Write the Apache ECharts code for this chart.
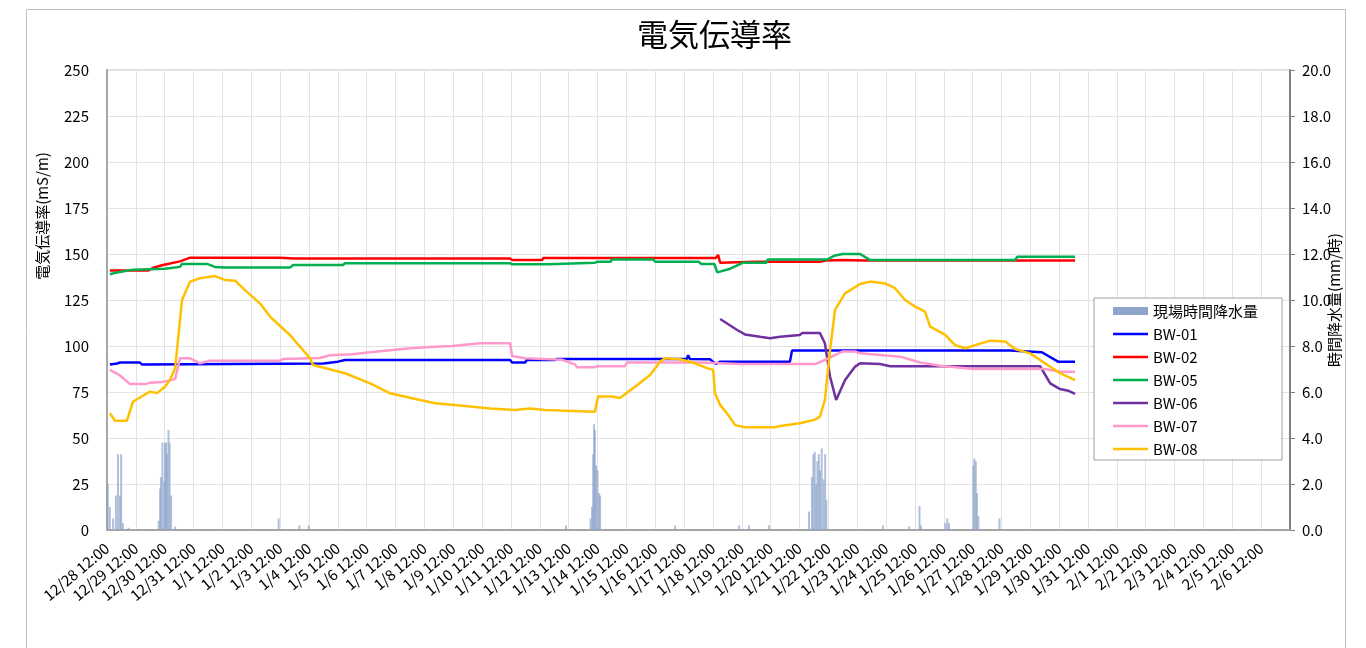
<!DOCTYPE html>
<html>
<head>
<meta charset="utf-8">
<title>電気伝導率</title>
<script src="https://cdn.jsdelivr.net/npm/echarts@6.0.0/dist/echarts.min.js"></script>
<style>
  html, body { margin: 0; padding: 0; background: #fff; }
  #main { width: 1366px; height: 648px; }
</style>
</head>
<body>
<div id="main"></div>
<script>
// x軸ラベル（12/28 12:00 を 0 日とする）
var dayLabels = ['12/28 12:00', '12/29 12:00', '12/30 12:00', '12/31 12:00', '1/1 12:00', '1/2 12:00',
  '1/3 12:00', '1/4 12:00', '1/5 12:00', '1/6 12:00', '1/7 12:00', '1/8 12:00', '1/9 12:00',
  '1/10 12:00', '1/11 12:00', '1/12 12:00', '1/13 12:00', '1/14 12:00', '1/15 12:00', '1/16 12:00',
  '1/17 12:00', '1/18 12:00', '1/19 12:00', '1/20 12:00', '1/21 12:00', '1/22 12:00', '1/23 12:00',
  '1/24 12:00', '1/25 12:00', '1/26 12:00', '1/27 12:00', '1/28 12:00', '1/29 12:00', '1/30 12:00',
  '1/31 12:00', '2/1 12:00', '2/2 12:00', '2/3 12:00', '2/4 12:00', '2/5 12:00', '2/6 12:00'];

var seriesNames = ['BW-01', 'BW-02', 'BW-05', 'BW-06', 'BW-07', 'BW-08'];
var seriesColors = ['#0000ff', '#ff0000', '#00b050', '#7030a0', '#ff99cc', '#ffc000'];
var rainName = '現場時間降水量';

// [経過日数, 電気伝導率(mS/m)]
var bw01 = [[0.10, 90], [0.35, 90.5], [0.45, 91], [1.14, 91], [1.21, 90], [7.5, 90.5], [8.0, 91.5], [8.25, 92.4],
  [13.97, 92.4], [14.04, 91], [14.49, 91], [14.55, 92.4], [15.53, 92.4], [15.6, 93], [20.1, 93], [20.14, 95],
  [20.2, 93], [20.9, 92.8], [21.0, 91.5], [21.11, 90.2], [21.25, 91.5], [23.67, 91.5], [23.74, 97.5],
  [31.3, 97.5], [31.35, 96.6], [32.4, 96.6], [32.96, 91.5], [33.55, 91.5]];

var bw02 = [[0.10, 141], [1.42, 141], [1.60, 142.5], [1.94, 144], [2.53, 146], [2.88, 148], [6.0, 148],
  [6.5, 147.6], [13.97, 147.6], [14.04, 146.7], [15.08, 146.7], [15.12, 147.8], [21.1, 147.8], [21.18, 149.5],
  [21.25, 145.3], [22.5, 145.8], [24.7, 145.8], [24.9, 146.5], [25.5, 146.7], [26.2, 146.5], [33.55, 146.4]];

var bw05 = [[0.10, 139], [0.35, 140], [0.90, 141.5], [2.01, 142], [2.53, 143], [2.60, 144.6], [3.47, 144.6],
  [3.74, 143], [4.09, 142.6], [6.34, 142.6], [6.45, 144], [8.18, 144], [8.25, 145], [13.97, 145], [14.04, 144.4],
  [15.29, 144.4], [15.35, 145.3], [16.91, 145.3], [17.0, 145.8], [17.45, 145.8], [17.5, 147], [18.93, 147],
  [19.0, 145.8], [20.5, 145.8], [20.6, 144.6], [21.05, 144.6], [21.15, 140], [21.6, 142], [22.05, 145.3],
  [22.85, 145.3], [22.9, 147], [24.95, 147], [25.2, 149], [25.5, 150], [26.1, 150], [26.45, 146.7],
  [31.47, 146.7], [31.55, 148.5], [33.55, 148.5]];

var bw06 = [[21.25, 114.7], [21.84, 108.7], [22.11, 106.3], [22.63, 105], [22.98, 104.2], [23.33, 105],
  [24.01, 106], [24.09, 107], [24.71, 107], [24.88, 101.5], [25.06, 83.3], [25.27, 70.7], [25.58, 81.5],
  [25.93, 88.8], [26.10, 90.6], [26.79, 90.2], [27.14, 89], [32.34, 89], [32.69, 79.7], [33.03, 76.6],
  [33.31, 75.7], [33.55, 74]];

var bw07 = [[0.10, 87], [0.45, 84], [0.80, 79.3], [1.32, 79.3], [1.49, 80], [1.94, 80.5], [2.36, 82],
  [2.53, 93.3], [2.88, 93.3], [3.22, 90.6], [3.57, 92], [6.0, 92], [6.1, 93], [7.38, 93.5], [7.73, 95],
  [8.5, 95.5], [9.12, 96.6], [10.33, 98.5], [11.02, 99.3], [11.96, 100], [12.93, 101.5], [13.97, 101.5],
  [14.04, 94.6], [14.49, 93.3], [15.77, 92.5], [16.22, 90], [16.29, 88.4], [16.91, 88.5], [17.0, 89],
  [17.95, 89], [18.02, 91], [20.55, 91], [21.94, 90.2], [24.54, 90.2], [24.88, 92.4], [25.48, 97],
  [25.93, 97], [26.10, 96], [27.49, 94.2], [28.18, 91], [28.87, 89.3], [30.02, 87.5], [32.51, 87.5],
  [33.03, 86], [33.55, 86]];

var bw08 = [[0.10, 63.4], [0.28, 59.4], [0.69, 59.4], [0.90, 69.7], [1.14, 72], [1.49, 75.2], [1.73, 74.4],
  [2.01, 77.9], [2.18, 81.5], [2.36, 87.9], [2.46, 103], [2.60, 125], [2.88, 135], [3.22, 136.8], [3.74, 138],
  [4.09, 135.9], [4.44, 135.5], [4.78, 130.4], [5.30, 123.2], [5.65, 116], [6.34, 106], [7.04, 93.3],
  [7.14, 89.7], [8.25, 85.2], [9.12, 79.7], [9.81, 74.3], [10.85, 70.7], [11.37, 68.9], [12.24, 67.6],
  [13.28, 66], [14.14, 65.2], [14.66, 66], [15.18, 65.2], [15.70, 64.9], [16.91, 64.3], [17.02, 72.5],
  [17.50, 72.5], [17.78, 71.7], [18.30, 77.9], [18.82, 84.2], [19.17, 91.5], [19.34, 93.3], [19.86, 92.8],
  [20.38, 90.6], [20.80, 88], [21.01, 87], [21.07, 74.3], [21.25, 68], [21.53, 62.5], [21.77, 57],
  [22.11, 55.8], [23.15, 55.8], [23.33, 56.5], [24.01, 58], [24.54, 60], [24.71, 61.6], [24.88, 70.7],
  [25.06, 97.8], [25.23, 119.6], [25.58, 128.6], [26.10, 133.7], [26.45, 135], [26.97, 134], [27.31, 131.4],
  [27.66, 125], [28.01, 121.4], [28.35, 118.7], [28.53, 110.5], [29.05, 106], [29.39, 100.5], [29.74, 98.8],
  [30.09, 100.5], [30.61, 102.9], [31.13, 102.4], [31.47, 98.4], [31.99, 96], [32.51, 90.6], [33.03, 85.2],
  [33.55, 81.5]];

// [経過日数, 時間降水量(mm/時)]
var rain = [[0.03, 2.0], [0.10, 1.0], [0.21, 0.5], [0.31, 1.5], [0.38, 3.3], [0.45, 1.5], [0.49, 3.3],
  [0.55, 0.3], [0.75, 0.1], [1.79, 0.4], [1.84, 1.8], [1.87, 2.3], [1.92, 3.8], [1.98, 2.1], [2.01, 3.8],
  [2.05, 3.8], [2.08, 3.3], [2.13, 4.35], [2.17, 3.8], [2.22, 1.5], [2.36, 0.15], [5.95, 0.5], [6.67, 0.2],
  [6.99, 0.2], [15.91, 0.2], [16.76, 0.5], [16.81, 1.0], [16.85, 3.3], [16.88, 4.6], [16.91, 4.35],
  [16.95, 2.8], [17.0, 2.6], [17.05, 1.6], [17.09, 1.5], [19.69, 0.2], [21.91, 0.2], [22.25, 0.2],
  [22.94, 0.2], [24.33, 0.8], [24.43, 2.3], [24.48, 3.3], [24.53, 3.4], [24.58, 2.0], [24.62, 3.0],
  [24.67, 3.3], [24.71, 2.6], [24.77, 3.55], [24.83, 2.2], [24.89, 3.3], [24.93, 1.3], [26.89, 0.2],
  [27.80, 0.15], [28.16, 1.04], [28.21, 0.2], [29.05, 0.3], [29.12, 0.5], [29.18, 0.3], [30.03, 2.8],
  [30.06, 3.1], [30.11, 3.0], [30.15, 1.6], [30.20, 0.6], [30.93, 0.5]];

var lineData = [bw01, bw02, bw05, bw06, bw07, bw08];

var font = 'Noto Sans CJK JP';
// 凡例の線アイコン（上下に空の点を置いて細い線にする）
var lineIcon = 'path://M0,0 L0,0 M0,2.7 L35,2.7 L35,5.3 L0,5.3 Z M35,8 L35,8';

var chart = echarts.init(document.getElementById('main'));

var series = [{
  name: rainName,
  type: 'bar',
  yAxisIndex: 1,
  barWidth: 2,
  itemStyle: { color: 'rgba(143,165,204,0.7)' },
  data: rain
}];
var legendData = [{ name: rainName, icon: 'rect', itemStyle: { color: '#8fa5cc' } }];
for (var i = 0; i < seriesNames.length; i++) {
  series.push({
    name: seriesNames[i],
    type: 'line',
    symbol: 'none',
    lineStyle: { width: 2.5, color: seriesColors[i] },
    itemStyle: { color: seriesColors[i] },
    data: lineData[i]
  });
  legendData.push({ name: seriesNames[i], icon: lineIcon });
}

var option = {
  backgroundColor: '#fff',
  animation: false,
  textStyle: { fontFamily: font },
  title: {
    text: '電気伝導率',
    left: 632,
    top: 14,
    textStyle: { fontFamily: font, fontSize: 31, fontWeight: 'normal', color: '#000' }
  },
  legend: {
    orient: 'vertical',
    left: 1094,
    top: 298,
    padding: [5, 24, 3, 19],
    backgroundColor: '#fff',
    borderColor: '#a0a0a0',
    borderWidth: 1,
    itemWidth: 35,
    itemHeight: 8,
    itemGap: 7,
    textStyle: { fontFamily: font, fontSize: 15, lineHeight: 16, color: '#000' },
    data: legendData
  },
  grid: {
    left: 107,
    right: 76,
    top: 70,
    bottom: 118,
    show: true,
    borderColor: '#bfbfbf',
    borderWidth: 1
  },
  xAxis: {
    type: 'value',
    min: 0,
    max: 41,
    interval: 1,
    axisLine: { lineStyle: { color: '#a6a6a6', width: 2 } },
    axisTick: { show: false },
    splitLine: { lineStyle: { color: '#e3e3e3' } },
    axisLabel: {
      rotate: 40,
      margin: 16,
      fontSize: 15,
      color: '#000',
      fontFamily: font,
      formatter: function (v) { return dayLabels[v] || ''; }
    }
  },
  yAxis: [{
    type: 'value',
    min: 0,
    max: 250,
    interval: 25,
    axisLine: { show: true, lineStyle: { color: '#a6a6a6', width: 2 } },
    axisTick: { show: false },
    splitLine: { lineStyle: { color: '#e3e3e3' } },
    axisLabel: { fontSize: 15, color: '#000', margin: 18, fontFamily: font }
  }, {
    type: 'value',
    min: 0,
    max: 20,
    interval: 2,
    position: 'right',
    axisLine: { show: true, lineStyle: { color: '#808080', width: 2 } },
    axisTick: { show: true, inside: false, length: 5, lineStyle: { color: '#808080' } },
    splitLine: { show: false },
    axisLabel: {
      fontSize: 15, color: '#000', margin: 12, fontFamily: font,
      formatter: function (v) { return v.toFixed(1); }
    }
  }],
  graphic: [{
    type: 'rect',
    silent: true,
    z: -10,
    shape: { x: 26.5, y: 9.5, width: 1319, height: 700 },
    style: { fill: null, stroke: '#bfbfbf', lineWidth: 1 }
  }, {
    type: 'text',
    x: 42,
    y: 216,
    rotation: Math.PI / 2,
    style: {
      text: '電気伝導率(mS/m)',
      font: '15px "Noto Sans CJK JP"',
      fill: '#000',
      textAlign: 'center',
      textVerticalAlign: 'middle'
    }
  }, {
    type: 'text',
    x: 1334,
    y: 300,
    rotation: Math.PI / 2,
    style: {
      text: '時間降水量(mm/時)',
      font: '15px "Noto Sans CJK JP"',
      fill: '#000',
      textAlign: 'center',
      textVerticalAlign: 'middle'
    }
  }],
  series: series
};

chart.setOption(option);
</script>
</body>
</html>
